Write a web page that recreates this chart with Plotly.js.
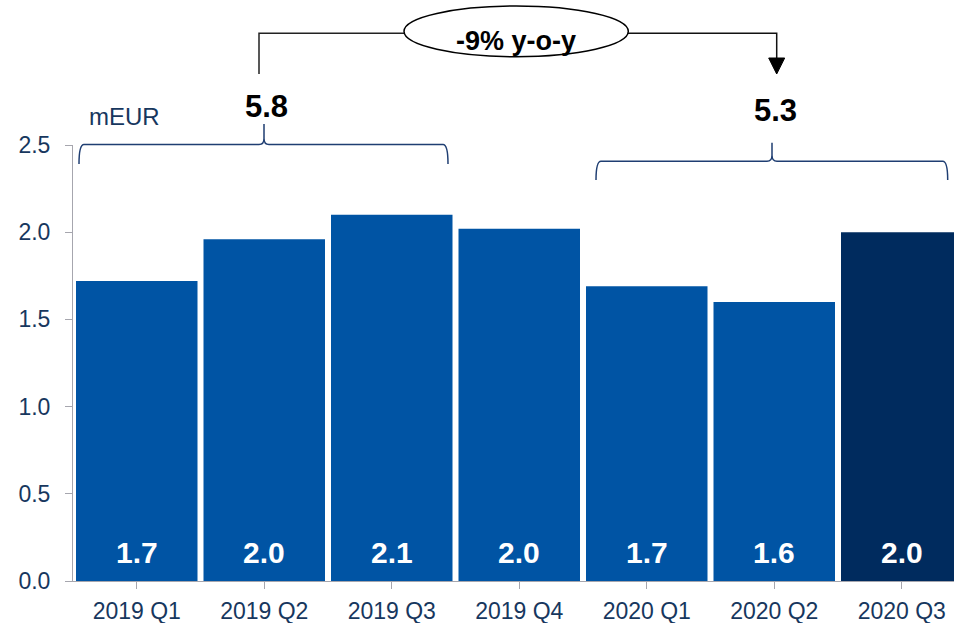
<!DOCTYPE html>
<html>
<head>
<meta charset="utf-8">
<script src="https://cdn.plot.ly/plotly-3.0.1.min.js"></script>
<style>html,body{margin:0;padding:0;background:#fff;}#chart{width:954px;height:623px;}</style>
</head>
<body>
<div id="chart"></div>
<script>
// ---- data ----
const categories = ["2019 Q1", "2019 Q2", "2019 Q3", "2019 Q4", "2020 Q1", "2020 Q2", "2020 Q3"];
const revenue = [1.72, 1.96, 2.10, 2.02, 1.69, 1.60, 2.00];
const barColors = ["#0054A4", "#0054A4", "#0054A4", "#0054A4", "#0054A4", "#0054A4", "#002B5E"];
const yTicks = [0, 0.5, 1.0, 1.5, 2.0, 2.5];
const unitLabel = "mEUR";
const yoyLabel = "-9% y-o-y";
const group2019 = [0, 1, 2];   // indices summed for first bracket
const group2020 = [4, 5, 6];   // indices summed for second bracket

const sum = idx => idx.reduce((a, i) => a + revenue[i], 0);
const total2019 = sum(group2019).toFixed(1);
const total2020 = sum(group2020).toFixed(1);

// ---- geometry helpers (pixel -> paper) ----
const W = 954, H = 623;
const ML = 73, MR = 0, MT = 145, MB = 42;
const PW = W - ML - MR, PH = H - MT - MB;
const X = p => (p - ML) / PW;
const Y = p => (H - MB - p) / PH;
const catW = 127.5;
const xMax = -0.5 + PW / catW;

const navy = "#17375E";
const braceCol = "#1F3E72";
const axisCol = "#A6A6AE";
const FONT = "Arial, 'Liberation Sans', sans-serif";

function bracePath(x0, x1, xm, yh, yend, ytip) {
  const r = 5;
  return `M ${X(x0)},${Y(yend)} Q ${X(x0)},${Y(yh)} ${X(x0 + r)},${Y(yh)} ` +
         `L ${X(xm - r)},${Y(yh)} Q ${X(xm)},${Y(yh)} ${X(xm)},${Y(yh - 6)} ` +
         `L ${X(xm)},${Y(ytip)} M ${X(xm)},${Y(yh - 6)} Q ${X(xm)},${Y(yh)} ${X(xm + r)},${Y(yh)} ` +
         `L ${X(x1 - r)},${Y(yh)} Q ${X(x1)},${Y(yh)} ${X(x1)},${Y(yend)}`;
}

const trace = {
  type: "bar",
  x: categories.map((c, i) => i),
  y: revenue,
  marker: { color: barColors, line: { width: 0 } },
  hoverinfo: "skip",
  showlegend: false
};

const annotations = revenue.map((v, i) => ({
  x: i, y: 0, xref: "x", yref: "y",
  text: "<b>" + v.toFixed(1) + "</b>",
  showarrow: false, yanchor: "bottom", yshift: 10,
  font: { family: FONT, size: 30, color: "#FFFFFF" }
}));

annotations.push(
  { xref: "paper", yref: "paper", x: X(87), y: Y(117), xanchor: "left", yanchor: "middle",
    text: unitLabel, showarrow: false, font: { family: FONT, size: 24, color: navy } },
  { xref: "paper", yref: "paper", x: X(266), y: Y(106), xanchor: "center", yanchor: "middle",
    text: "<b>" + total2019 + "</b>", showarrow: false, font: { family: FONT, size: 31, color: "#000" } },
  { xref: "paper", yref: "paper", x: X(775), y: Y(111), xanchor: "center", yanchor: "middle",
    text: "<b>" + total2020 + "</b>", showarrow: false, font: { family: FONT, size: 31, color: "#000" } },
  { xref: "paper", yref: "paper", x: X(516), y: Y(41), xanchor: "center", yanchor: "middle",
    text: "<b>" + yoyLabel + "</b>", showarrow: false, font: { family: FONT, size: 27, color: "#000" } }
);

const shapes = [
  { type: "path", xref: "paper", yref: "paper", path: bracePath(79, 448, 264, 144.5, 164, 124),
    line: { color: braceCol, width: 1.5 } },
  { type: "path", xref: "paper", yref: "paper", path: bracePath(596, 947.7, 772, 161.3, 180, 142.7),
    line: { color: braceCol, width: 1.5 } },
  { type: "path", xref: "paper", yref: "paper",
    path: `M ${X(259)},${Y(74)} L ${X(259)},${Y(33.3)} L ${X(410)},${Y(33.3)}`,
    line: { color: "#222", width: 1.5 } },
  { type: "path", xref: "paper", yref: "paper",
    path: `M ${X(622)},${Y(33.3)} L ${X(776.7)},${Y(33.3)} L ${X(776.7)},${Y(60)}`,
    line: { color: "#111", width: 1.5 } },
  { type: "path", xref: "paper", yref: "paper",
    path: `M ${X(768.7)},${Y(58)} L ${X(784.7)},${Y(58)} L ${X(776.7)},${Y(74)} Z`,
    fillcolor: "#000", line: { color: "#000", width: 1 } },
  { type: "circle", xref: "paper", yref: "paper", x0: X(404), x1: X(628.3), y0: Y(56.7), y1: Y(6),
    fillcolor: "#fff", line: { color: "#000", width: 1.5 } }
];

const layout = {
  width: W, height: H,
  margin: { l: ML, r: MR, t: MT, b: MB, pad: 0 },
  paper_bgcolor: "#fff", plot_bgcolor: "#fff",
  bargap: 0.047,
  font: { family: FONT, color: navy },
  xaxis: {
    range: [-0.5, xMax], tickmode: "array", tickvals: categories.map((c, i) => i), ticktext: categories,
    tickson: "boundaries", ticks: "outside", ticklen: 7, tickcolor: axisCol, tickwidth: 1,
    showline: true, linecolor: axisCol, linewidth: 1, showgrid: false, zeroline: false,
    tickfont: { family: FONT, size: 23, color: navy }, ticklabelstandoff: 2, fixedrange: true
  },
  yaxis: {
    range: [0, 2.5], tickmode: "array", tickvals: yTicks, ticktext: yTicks.map(v => v.toFixed(1)),
    ticks: "outside", ticklen: 7, tickcolor: axisCol, tickwidth: 1,
    showline: true, linecolor: axisCol, linewidth: 1, showgrid: false, zeroline: false,
    tickfont: { family: FONT, size: 23, color: navy }, ticklabelstandoff: 10, fixedrange: true
  },
  annotations: annotations,
  shapes: shapes
};

Plotly.newPlot("chart", [trace], layout, { displayModeBar: false, staticPlot: true });
</script>
</body>
</html>
